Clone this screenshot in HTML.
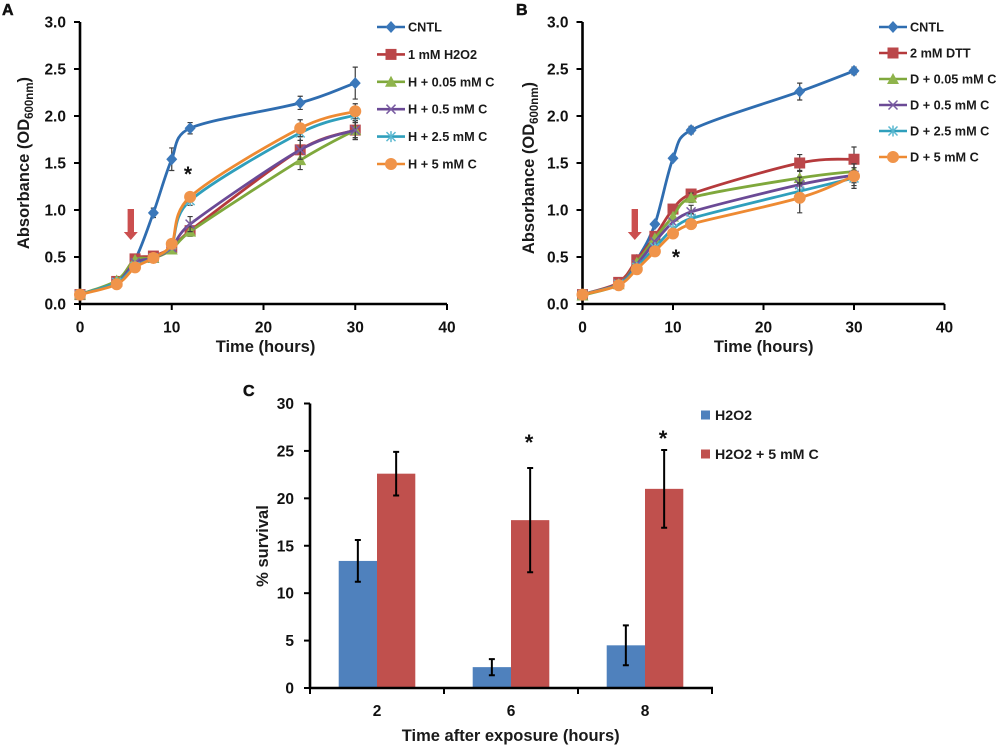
<!DOCTYPE html>
<html lang="en">
<head>
<meta charset="utf-8">
<title>Growth and survival charts</title>
<style>
html,body{margin:0;padding:0;background:#fff;}
svg{display:block;font-family:"Liberation Sans",sans-serif;font-weight:bold;fill:#111;filter:blur(0.35px);}
</style>
</head>
<body>
<svg id="figure" xmlns="http://www.w3.org/2000/svg" width="1000" height="747" viewBox="0 0 1000 747"></svg>
<script>
// ---- Shared growth-curve data ----
var hours = [0, 4, 6, 8, 10, 12, 24, 30];
var growthYTicks = [0, 0.5, 1, 1.5, 2, 2.5, 3];
var growthXTicks = [0, 10, 20, 30, 40];

// ---- Panel A ----
var labelsA = ['CNTL', '1 mM H2O2', 'H + 0.05 mM C', 'H + 0.5 mM C', 'H + 2.5 mM C', 'H + 5 mM C'];
var cntlA = [0.10, 0.24, 0.47, 0.97, 1.54, 1.87, 2.14, 2.35];
var h2o2A = [0.10, 0.24, 0.48, 0.51, 0.60, 0.78, 1.64, 1.85];
var h005A = [0.10, 0.25, 0.47, 0.49, 0.58, 0.77, 1.53, 1.85];
var h05A = [0.10, 0.23, 0.44, 0.49, 0.60, 0.85, 1.64, 1.85];
var h25A = [0.10, 0.23, 0.40, 0.49, 0.63, 1.10, 1.82, 2.01];
var h5A = [0.10, 0.21, 0.39, 0.49, 0.64, 1.14, 1.87, 2.05];
var cntlAErr = [0, 0.03, 0.03, 0.05, 0.12, 0.06, 0.07, 0.17];
var h2o2AErr = [0, 0.02, 0.02, 0.02, 0.02, 0.04, 0.14, 0.10];
var h005AErr = [0, 0.02, 0.02, 0.02, 0.02, 0.05, 0.10, 0.10];
var h05AErr = [0, 0.02, 0.02, 0.02, 0.02, 0.08, 0.10, 0.08];
var h25AErr = [0, 0.02, 0.02, 0.02, 0.02, 0.05, 0.08, 0.08];
var h5AErr = [0, 0.02, 0.02, 0.02, 0.02, 0.03, 0.09, 0.08];

// ---- Panel B ----
var labelsB = ['CNTL', '2 mM DTT', 'D + 0.05 mM C', 'D + 0.5 mM C', 'D + 2.5 mM C', 'D + 5 mM C'];
var cntlB = [0.10, 0.22, 0.47, 0.85, 1.55, 1.85, 2.26, 2.48];
var dttB = [0.10, 0.23, 0.47, 0.72, 1.01, 1.17, 1.50, 1.54];
var d005B = [0.09, 0.21, 0.44, 0.70, 0.93, 1.13, 1.34, 1.41];
var d05B = [0.10, 0.21, 0.42, 0.66, 0.87, 0.98, 1.27, 1.37];
var d25B = [0.10, 0.21, 0.39, 0.60, 0.80, 0.91, 1.20, 1.34];
var d5B = [0.10, 0.20, 0.37, 0.56, 0.75, 0.85, 1.13, 1.36];
var cntlBErr = [0, 0.02, 0.02, 0.02, 0.03, 0.04, 0.09, 0.04];
var dttBErr = [0, 0.02, 0.02, 0.03, 0.03, 0.04, 0.09, 0.13];
var d005BErr = [0, 0.02, 0.02, 0.03, 0.03, 0.05, 0.08, 0.08];
var d05BErr = [0, 0.02, 0.02, 0.03, 0.03, 0.07, 0.08, 0.08];
var d25BErr = [0, 0.02, 0.02, 0.03, 0.03, 0.05, 0.08, 0.08];
var d5BErr = [0, 0.02, 0.02, 0.03, 0.03, 0.05, 0.16, 0.13];

// ---- Panel C ----
var survivalCategories = ['2', '6', '8'];
var survivalH2o2 = [13.4, 2.2, 4.5];
var survivalH2o2C = [22.6, 17.7, 21.0];
var survivalH2o2Err = [2.2, 0.85, 2.1];
var survivalH2o2CErr = [2.3, 5.5, 4.1];
var survivalYTicks = [0, 5, 10, 15, 20, 25, 30];
var survivalLabels = ['H2O2', 'H2O2 + 5 mM C'];

// ---- Helpers ----
var NS = 'http://www.w3.org/2000/svg';
var root = document.getElementById('figure');
function mk(parent, tag, attrs, text) {
  var el = document.createElementNS(NS, tag);
  for (var k in attrs) el.setAttribute(k, attrs[k]);
  if (text !== undefined) el.textContent = text;
  parent.appendChild(el);
  return el;
}
function group(parent, name) {
  var g = document.createElementNS(NS, 'g');
  
  
  parent.appendChild(g);
  return g;
}
function slug(s) { return s.toLowerCase().replace(/[^a-z0-9]+/g, '-'); }

var lineColors = ['#2f6db0', '#b53a3c', '#7fa83c', '#6b4a96', '#2f9fbc', '#ee8a32'];
var markColors = ['#3b78ba', '#bb474a', '#8fb44c', '#7a5ca2', '#5bb8d0', '#f0944a'];

function dist(a, b) { return Math.sqrt((a[0] - b[0]) * (a[0] - b[0]) + (a[1] - b[1]) * (a[1] - b[1])); }
// Spreadsheet-style smoothed line: control points limited by segment length
function smoothPath(pts) {
  var d = 'M' + pts[0][0].toFixed(2) + ' ' + pts[0][1].toFixed(2);
  var n = pts.length;
  for (var i = 0; i < n - 1; i++) {
    var p0 = pts[Math.max(i - 1, 0)], p1 = pts[i], p2 = pts[i + 1], p3 = pts[Math.min(i + 2, n - 1)];
    var d02 = dist(p0, p2), d12 = dist(p1, p2), d13 = dist(p1, p3);
    var f1, f2;
    var a = d02 / 6 >= d12 / 2, b = d13 / 6 >= d12 / 2;
    if (!a && !b) {
      f1 = i === 0 ? 1 / 3 : 1 / 6;
      f2 = i === n - 2 ? 1 / 3 : 1 / 6;
    } else if (a && b) {
      f1 = d12 / 2 / d02;
      f2 = d12 / 2 / d13;
    } else if (a) {
      f1 = d12 / 2 / d02;
      f2 = d12 / 2 / d13 * (d13 / d02);
    } else {
      f1 = d12 / 2 / d02 * (d02 / d13);
      f2 = d12 / 2 / d13;
    }
    var c1x = p1[0] + (p2[0] - p0[0]) * f1, c1y = p1[1] + (p2[1] - p0[1]) * f1;
    var c2x = p2[0] - (p3[0] - p1[0]) * f2, c2y = p2[1] - (p3[1] - p1[1]) * f2;
    d += 'C' + c1x.toFixed(2) + ' ' + c1y.toFixed(2) + ' ' + c2x.toFixed(2) + ' ' + c2y.toFixed(2) + ' ' + p2[0].toFixed(2) + ' ' + p2[1].toFixed(2);
  }
  return d;
}
function marker(parent, kind, x, y, color, name) {
  var g = group(parent, name);
  if (kind === 0) {
    mk(g, 'polygon', {points: (x - 5.5) + ',' + y + ' ' + x + ',' + (y - 6) + ' ' + (x + 5.5) + ',' + y + ' ' + x + ',' + (y + 6), fill: color});
  } else if (kind === 1) {
    mk(g, 'rect', {x: x - 5.5, y: y - 5.5, width: 11, height: 11, fill: color});
  } else if (kind === 2) {
    mk(g, 'polygon', {points: (x - 6) + ',' + (y + 5) + ' ' + x + ',' + (y - 6) + ' ' + (x + 6) + ',' + (y + 5), fill: color});
  } else if (kind === 3) {
    mk(g, 'path', {d: 'M' + (x - 4.5) + ' ' + (y - 4.5) + 'L' + (x + 4.5) + ' ' + (y + 4.5) + 'M' + (x - 4.5) + ' ' + (y + 4.5) + 'L' + (x + 4.5) + ' ' + (y - 4.5), stroke: color, 'stroke-width': 1.5, fill: 'none'});
  } else if (kind === 4) {
    mk(g, 'path', {d: 'M' + (x - 4.5) + ' ' + (y - 4.5) + 'L' + (x + 4.5) + ' ' + (y + 4.5) + 'M' + (x - 4.5) + ' ' + (y + 4.5) + 'L' + (x + 4.5) + ' ' + (y - 4.5) + 'M' + x + ' ' + (y - 5.5) + 'L' + x + ' ' + (y + 5.5), stroke: color, 'stroke-width': 1.5, fill: 'none'});
  } else {
    mk(g, 'circle', {cx: x, cy: y, r: 6, fill: color});
  }
}
function errorBar(parent, x, yHi, yLo, color, width, cap, name) {
  var g = group(parent, name);
  mk(g, 'path', {d: 'M' + x + ' ' + yHi + 'L' + x + ' ' + yLo + 'M' + (x - cap) + ' ' + yHi + 'L' + (x + cap) + ' ' + yHi + 'M' + (x - cap) + ' ' + yLo + 'L' + (x + cap) + ' ' + yLo, stroke: color, 'stroke-width': width, fill: 'none'});
}

function growthChart(o) {
  var panel = group(root, o.id + '-chart');
  function sx(v) { return o.x0 + (v / 40) * o.xw; }
  function sy(v) { return o.y0 - (v / 3) * o.yh; }

  var letter = mk(panel, 'text', {x: o.letterX, y: 15, 'font-size': 16, stroke: '#111', 'stroke-width': 0.5}, o.letter);
  
  

  var axes = group(panel, 'axes');
  mk(axes, 'path', {d: 'M' + o.x0 + ' ' + sy(3) + 'L' + o.x0 + ' ' + o.y0 + 'L' + sx(40) + ' ' + o.y0, stroke: '#000', 'stroke-width': 2.6, fill: 'none'});

  growthYTicks.forEach(function (t) {
    mk(axes, 'line', {x1: o.x0 - 6, x2: o.x0, y1: sy(t), y2: sy(t), stroke: '#000', 'stroke-width': 2});
    var lb = mk(axes, 'text', {x: o.x0 - 14, y: sy(t) + 5.5, 'text-anchor': 'end', 'font-size': 15.5}, t.toFixed(1));
    
    
  });
  growthXTicks.forEach(function (t) {
    mk(axes, 'line', {x1: sx(t), x2: sx(t), y1: o.y0, y2: o.y0 + 6, stroke: '#000', 'stroke-width': 2});
    var lb = mk(axes, 'text', {x: sx(t), y: o.y0 + 28.5, 'text-anchor': 'middle', 'font-size': 15.5}, String(t));
    
    
  });

  var xt = mk(panel, 'text', {x: o.xTitleX, y: o.y0 + 48, 'text-anchor': 'middle', 'font-size': 16.5, fill: '#1a1a1a'}, 'Time (hours)');
  
  

  var yt = mk(panel, 'text', {transform: 'translate(' + o.yTitleX + ' ' + o.yTitleY + ') rotate(-90)', 'text-anchor': 'middle', 'font-size': 16.5, fill: '#1a1a1a'});
  
  
  mk(yt, 'tspan', {}, 'Absorbance (OD');
  mk(yt, 'tspan', {'font-size': 11.5, dy: 4}, '600nm');
  mk(yt, 'tspan', {dy: -4}, ')');

  o.series.forEach(function (vals, s) {
    var g = group(panel, 'series-' + slug(o.labels[s]));
    var errs = o.errors[s];
    hours.forEach(function (h, i) {
      if (errs[i] > 0.03) {
        errorBar(g, sx(h), sy(vals[i] + errs[i]), sy(vals[i] - errs[i]), '#3d3d3d', 1.2, 2.6, 'error-bar');
      }
    });
    var pts = hours.map(function (h, i) { return [sx(h), sy(vals[i])]; });
    mk(g, 'path', {d: smoothPath(pts), fill: 'none', stroke: lineColors[s], 'stroke-width': 2.8});
    hours.forEach(function (h, i) {
      marker(g, s, sx(h), sy(vals[i]), markColors[s], 'data-point');
    });
  });

  var arrow = group(panel, 'treatment-arrow');
  var ax = o.arrowX;
  mk(arrow, 'polygon', {points: (ax - 3.2) + ',209 ' + (ax + 3.2) + ',209 ' + (ax + 3.2) + ',232 ' + (ax + 7) + ',232 ' + ax + ',240 ' + (ax - 7) + ',232 ' + (ax - 3.2) + ',232', fill: '#cb4f4f'});

  var star = mk(panel, 'text', {x: o.starX, y: o.starY, 'text-anchor': 'middle', 'font-size': 21}, '*');
  
  

  var legend = group(panel, 'legend');
  o.labels.forEach(function (label, s) {
    var y = o.legendY + s * o.legendStep;
    var e = group(legend, 'legend-entry');
    mk(e, 'line', {x1: o.legendX, x2: o.legendX + 28, y1: y, y2: y, stroke: lineColors[s], 'stroke-width': 2.6});
    marker(e, s, o.legendX + 14, y, markColors[s], 'legend-marker');
    mk(e, 'text', {x: o.legendX + 31, y: y + 4.5, 'font-size': 12.7, fill: '#1a1a1a'}, label);
  });
}

growthChart({
  id: 'a', letter: 'A', letterX: 2, x0: 80, xw: 367, y0: 304, yh: 282,
  xTitleX: 265.5, yTitleX: 29, yTitleY: 163, arrowX: 130.8, starX: 188, starY: 181,
  legendX: 377, legendY: 27, legendStep: 27.4,
  labels: labelsA,
  series: [cntlA, h2o2A, h005A, h05A, h25A, h5A],
  errors: [cntlAErr, h2o2AErr, h005AErr, h05AErr, h25AErr, h5AErr]
});
growthChart({
  id: 'b', letter: 'B', letterX: 516, x0: 582.5, xw: 362, y0: 304, yh: 282,
  xTitleX: 763.7, yTitleX: 534, yTitleY: 168, arrowX: 634.8, starX: 676, starY: 264,
  legendX: 879, legendY: 27, legendStep: 26,
  labels: labelsB,
  series: [cntlB, dttB, d005B, d05B, d25B, d5B],
  errors: [cntlBErr, dttBErr, d005BErr, d05BErr, d25BErr, d5BErr]
});

// ---- Panel C bar chart ----
(function () {
  var x0 = 310, groupW = 134, y0 = 688, yTop = 403.5, barW = 38.3;
  function sy(v) { return y0 - (v / 30) * (y0 - yTop); }
  function gc(i) { return x0 + groupW * (i + 0.5); }
  var panel = group(root, 'c-chart');

  var letter = mk(panel, 'text', {x: 243, y: 396, 'font-size': 16, stroke: '#111', 'stroke-width': 0.5}, 'C');
  
  

  var bars = group(panel, 'bars');
  survivalCategories.forEach(function (c, i) {
    var cx = gc(i);
    var a = mk(bars, 'rect', {x: cx - barW, y: sy(survivalH2o2[i]), width: barW, height: y0 - sy(survivalH2o2[i]), fill: '#4f81bd'});
    
    
    var b = mk(bars, 'rect', {x: cx, y: sy(survivalH2o2C[i]), width: barW, height: y0 - sy(survivalH2o2C[i]), fill: '#c0504d'});
    
    
  });
  survivalCategories.forEach(function (c, i) {
    var cx = gc(i);
    errorBar(panel, cx - barW / 2, sy(survivalH2o2[i] + survivalH2o2Err[i]), sy(survivalH2o2[i] - survivalH2o2Err[i]), '#000', 2, 3, 'error-bar');
    errorBar(panel, cx + barW / 2, sy(survivalH2o2C[i] + survivalH2o2CErr[i]), sy(survivalH2o2C[i] - survivalH2o2CErr[i]), '#000', 2, 3, 'error-bar');
  });

  var axes = group(panel, 'axes');
  mk(axes, 'path', {d: 'M' + x0 + ' ' + yTop + 'L' + x0 + ' ' + y0 + 'L' + (x0 + 3 * groupW + 1) + ' ' + y0, stroke: '#000', 'stroke-width': 2.6, fill: 'none'});
  survivalYTicks.forEach(function (t) {
    mk(axes, 'line', {x1: x0 - 6, x2: x0, y1: sy(t), y2: sy(t), stroke: '#000', 'stroke-width': 2});
    var lb = mk(axes, 'text', {x: x0 - 16, y: sy(t) + 5.5, 'text-anchor': 'end', 'font-size': 15.5}, String(t));
    
    
  });
  for (var i = 0; i <= survivalCategories.length; i++) {
    mk(axes, 'line', {x1: x0 + groupW * i, x2: x0 + groupW * i, y1: y0, y2: y0 + 6, stroke: '#000', 'stroke-width': 2});
  }
  survivalCategories.forEach(function (c, i) {
    var lb = mk(axes, 'text', {x: gc(i), y: 716, 'text-anchor': 'middle', 'font-size': 15.5}, c);
    
    
  });

  var xt = mk(panel, 'text', {x: 510.7, y: 741, 'text-anchor': 'middle', 'font-size': 16.5, fill: '#1a1a1a'}, 'Time after exposure (hours)');
  
  
  var yt = mk(panel, 'text', {transform: 'translate(268 546) rotate(-90)', 'text-anchor': 'middle', 'font-size': 16.5, fill: '#1a1a1a'}, '% survival');
  
  

  var s1 = mk(panel, 'text', {x: 529, y: 450, 'text-anchor': 'middle', 'font-size': 22}, '*');
  
  
  var s2 = mk(panel, 'text', {x: 663, y: 446, 'text-anchor': 'middle', 'font-size': 22}, '*');
  
  

  var legend = group(panel, 'legend');
  var swatches = ['#4f81bd', '#c0504d'];
  survivalLabels.forEach(function (label, s) {
    var y = 415 + s * 39;
    var e = group(legend, 'legend-entry');
    mk(e, 'rect', {x: 701, y: y - 4.5, width: 9, height: 9, fill: swatches[s]});
    mk(e, 'text', {x: 715, y: y + 5, 'font-size': 14.2, fill: '#1a1a1a'}, label);
  });
})();
</script>
</body>
</html>
